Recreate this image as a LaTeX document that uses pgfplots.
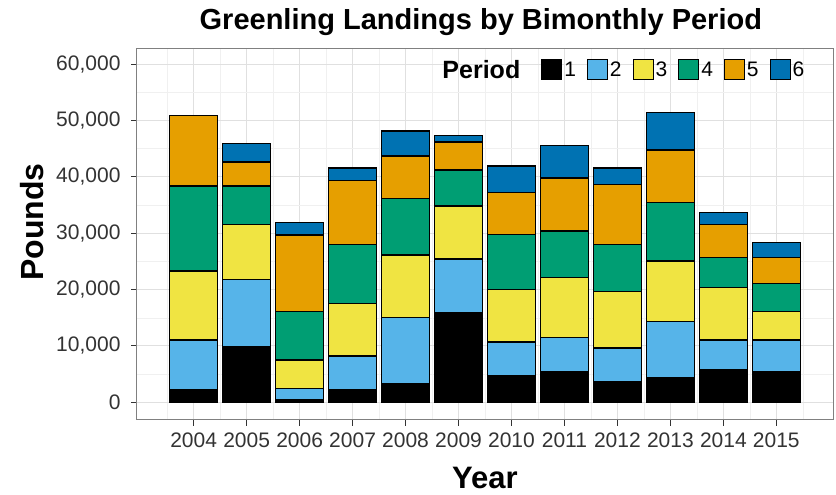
\documentclass[border=0pt]{standalone}
\usepackage{pgfplots}
\pgfplotsset{compat=1.18}
\usepackage{pgfplotstable}
\usepackage{fontspec}
\setmainfont{Liberation Sans}

\definecolor{p1}{HTML}{000000}
\definecolor{p2}{HTML}{56B4E9}
\definecolor{p3}{HTML}{F0E442}
\definecolor{p4}{HTML}{009E73}
\definecolor{p5}{HTML}{E69F00}
\definecolor{p6}{HTML}{0072B2}
\definecolor{gridmaj}{HTML}{E0E0E0}
\definecolor{gridmin}{HTML}{F0F0F0}
\definecolor{ticktext}{HTML}{333333}

% pounds landed per bimonthly period (cumulative stacks)
\pgfplotstableread{
x  year  p1     p2     p3     p4     p5     p6
0  2004  2300   8760   12240  15100  12550  0
1  2005  9820   12020  9760   6800   4260   3240
2  2006  400    2090   5020   8580   13610  2190
3  2007  2300   5920   9350   10410  11430  2190
4  2008  3370   11720  11060  10060  7520   4430
5  2009  15910  9530   9410   6390   4970   1190
6  2010  4790   5910   9360   9760   7460   4670
7  2011  5430   6040   10650  8290   9410   5730
8  2012  3660   5980   10060  8280   10720  2900
9  2013  4440   9870   10770  10350  9360   6620
10 2014  5860   5200   9290   5390   5860   2060
11 2015  5430   5630   5030   5040   4610   2660
}\landings

\pgfplotsset{
  seg/.style={fill=#1, draw=black, line width=1.2pt,
    legend image code/.code={\draw[fill=#1, draw=black, line width=1pt] (0pt,-10pt) rectangle (20pt,10pt);}},
}

\begin{document}
\begin{tikzpicture}
\path[use as bounding box] (0pt,0pt) rectangle (836pt,495pt);
\begin{axis}[
  at={(137pt,75pt)}, anchor=south west,
  scale only axis, width=696pt, height=371.7pt,
  ybar stacked, bar width=0.9,
  xmin=-1.07, xmax=12.07,
  ymin=-3140, ymax=62840,
  xtick={0,...,11},
  xticklabels={2004,2005,2006,2007,2008,2009,2010,2011,2012,2013,2014,2015},
  minor xtick={-0.5,0.5,...,11.5},
  ytick={0,10000,...,60000},
  minor ytick={5000,15000,...,55000},
  scaled y ticks=false,
  /pgf/number format/1000 sep={,},
  /pgf/number format/assume math mode=true,
  grid=both,
  major grid style={draw=gridmaj, line width=1pt},
  minor grid style={draw=gridmin, line width=0.6pt},
  tick align=outside, major tick length=6pt, minor tick length=0pt,
  tick style={draw=black!80, line width=1pt},
  axis line style={draw=black!50, line width=1pt},
  xtick pos=bottom, ytick pos=left,
  tick label style={font=\fontsize{21}{25}\selectfont, text=ticktext},
  xticklabel style={yshift=-3pt},
  yticklabel style={xshift=-7pt},
  title={Greenling Landings by Bimonthly Period},
  title style={at={(axis description cs:0.494,1)}, anchor=base, yshift=13pt,
    inner sep=0pt, font=\fontsize{29}{34}\selectfont\bfseries},
  xlabel={Year},
  xlabel style={at={(axis description cs:0.5,-0.184)}, anchor=base,
    inner sep=0pt, font=\fontsize{31}{36}\selectfont\bfseries},
  ylabel={Pounds},
  ylabel style={at={(axis description cs:-0.1342,0.5327)}, anchor=base, rotate=0,
    inner sep=0pt, font=\fontsize{32}{37}\selectfont\bfseries},
  legend columns=7,
  legend style={at={(axis description cs:0.962,0.9416)}, anchor=east,
    draw=none, fill=none, inner sep=0pt,
    nodes={inner sep=2pt},
    font=\fontsize{21}{25}\selectfont,
    /tikz/every even column/.append style={column sep=9pt}},
]
\addlegendimage{empty legend}
\addlegendentry{\fontsize{25}{30}\selectfont\bfseries Period\rule{10pt}{0pt}}
\addplot+[seg=p1] table[x=x, y=p1] {\landings};
\addlegendentry{1}
\addplot+[seg=p2] table[x=x, y=p2] {\landings};
\addlegendentry{2}
\addplot+[seg=p3] table[x=x, y=p3] {\landings};
\addlegendentry{3}
\addplot+[seg=p4] table[x=x, y=p4] {\landings};
\addlegendentry{4}
\addplot+[seg=p5] table[x=x, y=p5] {\landings};
\addlegendentry{5}
\addplot+[seg=p6] table[x=x, y=p6] {\landings};
\addlegendentry{6}
\end{axis}
\end{tikzpicture}
\end{document}
